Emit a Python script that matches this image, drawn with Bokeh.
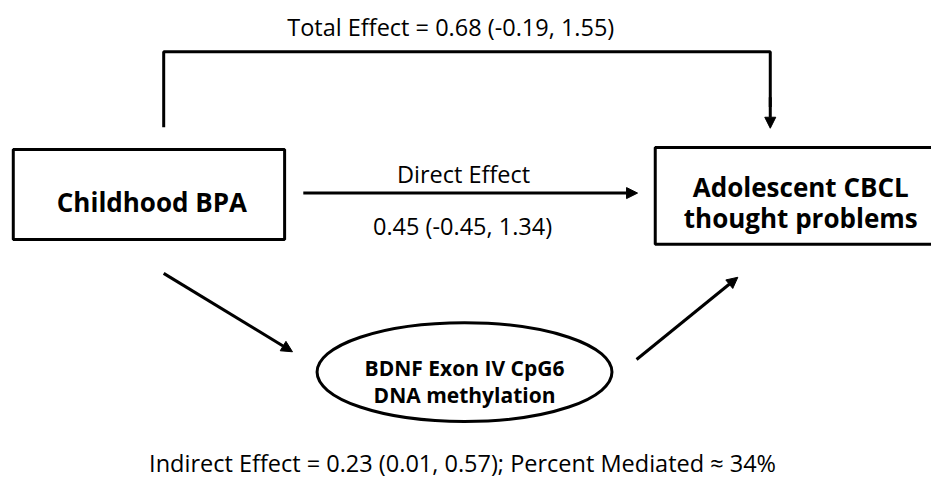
from bokeh.plotting import figure
from bokeh.models import Range1d, Arrow, NormalHead
from bokeh.core.properties import value
from bokeh.embed import file_html
from bokeh.resources import INLINE

# ---- data ----
exposure = "Childhood BPA"
outcome_lines = ["Adolescent CBCL", "thought problems"]
mediator_lines = ["BDNF Exon IV CpG6", "DNA methylation"]
total_effect = [0.68, -0.19, 1.55]
direct_effect = [0.45, -0.45, 1.34]
indirect_effect = [0.23, 0.01, 0.57]
percent_mediated = 34

def ci(v):
    return f"{v[0]:.2f} ({v[1]:.2f}, {v[2]:.2f})"

total_label = "Total Effect = " + ci(total_effect)
direct_title = "Direct Effect"
direct_label = ci(direct_effect)
indirect_label = "Indirect Effect = " + ci(indirect_effect) + f"; Percent Mediated \u2248 {percent_mediated}%"

W, H = 931, 480
p = figure(width=W, height=H, x_range=Range1d(0, 947), y_range=Range1d(496, 0),
           output_backend="svg", toolbar_location=None, min_border=0)
p.axis.visible = False
p.grid.visible = False
p.outline_line_color = None
p.background_fill_color = "white"

LW = 3
REG = value("Open Sans")

# boxes
p.quad(left=[13, 666], right=[289, 960], top=[154, 152], bottom=[247, 252],
       fill_color=None, line_color="black", line_width=LW)
# ellipse
p.ellipse(x=[472], y=[384], width=[300], height=[102], fill_color=None,
          line_color="black", line_width=LW)

# total effect bracket
p.line(x=[166, 166, 783, 783], y=[131, 53, 53, 110], line_color="black", line_width=LW)
head = dict(size=11, fill_color="black", line_color="black", line_width=1)
p.add_layout(Arrow(end=NormalHead(**head), x_start=783, y_start=100, x_end=783, y_end=132,
                   line_color="black", line_width=LW))
# direct arrow
p.add_layout(Arrow(end=NormalHead(**head), x_start=308, y_start=199, x_end=648, y_end=199,
                   line_color="black", line_width=LW))
# a path
p.add_layout(Arrow(end=NormalHead(**head), x_start=166, y_start=282, x_end=297, y_end=363,
                   line_color="black", line_width=LW))
# b path
p.add_layout(Arrow(end=NormalHead(**head), x_start=647, y_start=371, x_end=750, y_end=286,
                   line_color="black", line_width=LW))

# regular texts
p.text(x=[458, 471, 470, 470], y=[27, 179, 233, 478],
       text=[total_label, direct_title, direct_label, indirect_label],
       text_font=REG, text_font_size="23.5px", text_align="center",
       text_baseline="alphabetic", text_color="black")
# bold texts
p.text(x=[154, 814, 814], y=[208, 193, 225],
       text=[exposure] + outcome_lines,
       text_font=REG, text_font_style="bold", text_font_size="26px", text_align="center",
       text_baseline="alphabetic", text_color="black")
p.text(x=[472, 472], y=[380, 408], text=mediator_lines,
       text_font=REG, text_font_style="bold", text_font_size="21px", text_align="center",
       text_baseline="alphabetic", text_color="black")

open("out.html", "w").write(file_html(p, INLINE))
